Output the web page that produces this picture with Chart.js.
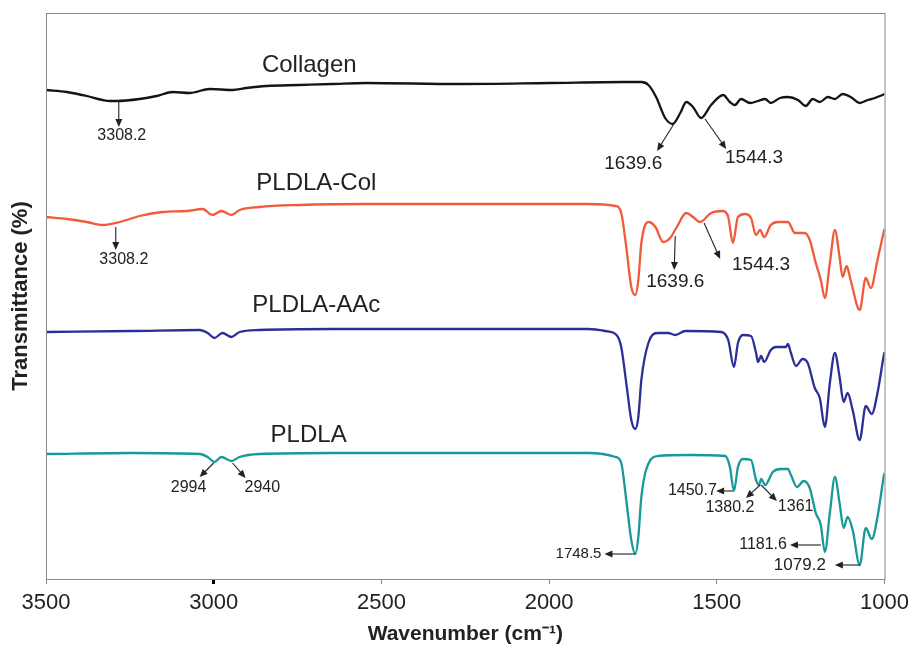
<!DOCTYPE html>
<html>
<head>
<meta charset="utf-8">
<script src="https://cdn.jsdelivr.net/npm/chart.js@4.4.1/dist/chart.umd.min.js"></script>
<style>
  html, body { margin: 0; padding: 0; background: #fff; }
  #wrap { width: 915px; height: 647px; }
</style>
</head>
<body>
<div id="wrap"><canvas id="ftirChart" width="915" height="647"></canvas></div>
<script>
// wavenumber (cm-1) and offset transmittance (arbitrary units) for each spectrum
var collagenWn = [3500, 3438, 3378, 3331, 3308, 3289, 3221, 3170, 3122, 3072, 3012, 2944, 2902, 2843, 2745, 2647, 2546, 2269, 2000, 1780, 1725, 1704, 1681, 1654, 1632, 1609, 1591, 1571, 1547, 1517, 1481, 1461, 1446, 1428, 1401, 1377, 1356, 1339, 1312, 1288, 1258, 1235, 1214, 1193, 1169, 1148, 1125, 1101, 1074, 1050, 1029, 1006, 1000];
var collagenT = [489, 487, 483, 479, 478, 478, 480, 483, 487, 486, 490, 489, 491, 493, 494, 495, 496, 495, 496, 497, 497, 494, 482, 461, 455, 466, 477, 472, 461, 474, 484, 477, 474, 480, 476, 478, 480, 476, 481, 482, 479, 473, 480, 477, 482, 480, 485, 482, 476, 479, 481, 484, 485];

var colWn = [3500, 3438, 3378, 3331, 3280, 3221, 3152, 3081, 3033, 3004, 2977, 2947, 2923, 2864, 2745, 2546, 2269, 1883, 1802, 1785, 1770, 1755, 1743, 1734, 1725, 1704, 1683, 1660, 1639, 1621, 1591, 1571, 1550, 1517, 1481, 1466, 1452, 1437, 1416, 1398, 1383, 1371, 1359, 1339, 1318, 1288, 1267, 1238, 1223, 1205, 1190, 1178, 1163, 1148, 1134, 1125, 1113, 1101, 1074, 1056, 1041, 1021, 1003, 1000];
var colT = [362, 360, 357, 354, 357, 363, 367, 368, 370, 364, 368, 364, 369, 372, 374, 375, 375, 375, 373, 366, 332, 292, 284, 299, 336, 357, 352, 337, 341, 351, 366, 362, 357, 366, 368, 362, 336, 362, 365, 361, 344, 349, 342, 354, 357, 357, 346, 346, 339, 316, 299, 281, 316, 349, 322, 302, 313, 299, 269, 301, 291, 319, 346, 350];

var aacWn = [3500, 3241, 3042, 3018, 2998, 2974, 2947, 2923, 2864, 2647, 2269, 1883, 1832, 1799, 1785, 1770, 1755, 1743, 1734, 1725, 1704, 1675, 1645, 1624, 1594, 1487, 1466, 1449, 1437, 1422, 1398, 1383, 1377, 1368, 1359, 1339, 1324, 1294, 1288, 1279, 1264, 1244, 1229, 1208, 1193, 1178, 1163, 1148, 1134, 1122, 1110, 1095, 1074, 1056, 1038, 1021, 1003, 1000];
var aacT = [247, 248, 249, 246, 241, 246, 242, 247, 249, 250, 250, 250, 248, 244, 232, 196, 159, 150, 162, 199, 236, 246, 246, 244, 248, 247, 239, 212, 236, 244, 243, 226, 217, 223, 217, 229, 232, 232, 235, 226, 213, 220, 216, 191, 181, 152, 196, 226, 202, 177, 186, 169, 139, 173, 165, 186, 222, 227];

var pldlaWn = [3500, 3241, 3042, 3018, 2998, 2977, 2947, 2923, 2864, 2647, 2269, 1883, 1802, 1785, 1770, 1755, 1743, 1734, 1725, 1698, 1675, 1585, 1475, 1461, 1449, 1437, 1422, 1398, 1383, 1374, 1368, 1356, 1333, 1309, 1288, 1279, 1261, 1241, 1223, 1205, 1190, 1178, 1163, 1148, 1134, 1122, 1110, 1095, 1074, 1056, 1038, 1021, 1003, 1000];
var pldlaT = [125, 126, 125, 122, 117, 122, 118, 122, 125, 126, 126, 126, 122, 116, 79, 39, 25, 42, 82, 119, 123, 124, 123, 112, 88, 112, 120, 119, 99, 94, 100, 94, 107, 110, 110, 104, 92, 98, 91, 66, 54, 27, 66, 102, 76, 51, 62, 49, 14, 51, 40, 62, 101, 106];

var xTicks = [3500, 3000, 2500, 2000, 1500, 1000];
var seriesNames = ["Collagen", "PLDLA-Col", "PLDLA-AAc", "PLDLA"];
var seriesColors = ["#141414", "#f15a3a", "#2b2f95", "#17999a"];

// series name labels: [wavenumber, value]
var nameSpots = [[2715, 507], [2694, 389], [2694, 267], [2717, 137]];

// peak arrows: from [wn, T] to [wn, T]
var arrows = [
  [3283, 477, 3283, 452],
  [1630, 454, 1678, 428],
  [1535, 460, 1472, 430],
  [3292, 352, 3292, 329],
  [1624, 343, 1627, 309],
  [1538, 356, 1490, 320],
  [3000, 116, 3042, 102],
  [2944, 116, 2905, 101],
  [1743, 25, 1835, 25],
  [1452, 88, 1502, 88],
  [1371, 94, 1413, 81],
  [1368, 94, 1321, 78],
  [1190, 34, 1282, 34],
  [1074, 14, 1148, 14]
];
// peak labels: text, wn, T, align, font size
var peakText = ["3308.2", "1639.6", "1544.3", "3308.2", "1639.6", "1544.3", "2994", "2940", "1748.5", "1450.7", "1380.2", "1361", "1181.6", "1079.2"];
var peakWn = [3274, 1749, 1389, 3268, 1624, 1368, 3075, 2855, 1844, 1500, 1461, 1318, 1291, 1175];
var peakT = [443, 415, 421, 319, 297, 314, 91, 91, 25, 88, 71, 72, 34, 14];
var peakAlign = ["center", "center", "center", "center", "center", "center", "center", "center", "right", "right", "center", "left", "right", "right"];
var peakSize = [16, 19, 19, 16, 19, 19, 16, 16, 15, 16, 16, 16, 16, 17];

function toPoints(wn, t) {
  return wn.map(function (w, i) { return { x: w, y: t[i] }; });
}

var seriesData = [
  toPoints(collagenWn, collagenT),
  toPoints(colWn, colT),
  toPoints(aacWn, aacT),
  toPoints(pldlaWn, pldlaT)
];

var datasets = seriesNames.map(function (name, i) {
  return {
    label: name,
    data: seriesData[i],
    borderColor: seriesColors[i],
    borderWidth: 2.3,
    pointRadius: 0,
    fill: false,
    cubicInterpolationMode: "monotone"
  };
});

function drawArrow(ctx, x1, y1, x2, y2) {
  var ang = Math.atan2(y2 - y1, x2 - x1);
  var head = 8;
  ctx.beginPath();
  ctx.moveTo(x1, y1);
  ctx.lineTo(x2 - Math.cos(ang) * head * 0.8, y2 - Math.sin(ang) * head * 0.8);
  ctx.stroke();
  ctx.beginPath();
  ctx.moveTo(x2, y2);
  ctx.lineTo(x2 - head * Math.cos(ang) + 3.5 * Math.sin(ang), y2 - head * Math.sin(ang) - 3.5 * Math.cos(ang));
  ctx.lineTo(x2 - head * Math.cos(ang) - 3.5 * Math.sin(ang), y2 - head * Math.sin(ang) + 3.5 * Math.cos(ang));
  ctx.closePath();
  ctx.fill();
}

var annotatePlugin = {
  id: "annotate",
  afterDatasetsDraw: function (chart) {
    var ctx = chart.ctx;
    var xs = chart.scales.x, ys = chart.scales.y;
    var area = chart.chartArea;
    ctx.save();
    // frame round the plot
    ctx.strokeStyle = "#8a8a8a";
    ctx.lineWidth = 1;
    ctx.strokeRect(area.left + 0.5, area.top + 0.5, area.right - area.left, area.bottom - area.top);

    ctx.fillStyle = "#222";
    ctx.textBaseline = "alphabetic";
    ctx.textAlign = "center";
    ctx.font = "24px Arial, 'Liberation Sans', sans-serif";
    nameSpots.forEach(function (p, i) {
      ctx.fillText(seriesNames[i], xs.getPixelForValue(p[0]), ys.getPixelForValue(p[1]));
    });

    ctx.strokeStyle = "#222";
    ctx.lineWidth = 1.1;
    arrows.forEach(function (a) {
      drawArrow(ctx, xs.getPixelForValue(a[0]), ys.getPixelForValue(a[1]),
        xs.getPixelForValue(a[2]), ys.getPixelForValue(a[3]));
    });

    ctx.textBaseline = "middle";
    peakText.forEach(function (txt, i) {
      ctx.font = peakSize[i] + "px Arial, 'Liberation Sans', sans-serif";
      ctx.textAlign = peakAlign[i];
      ctx.fillText(txt, xs.getPixelForValue(peakWn[i]), ys.getPixelForValue(peakT[i]));
    });
    ctx.restore();
  }
};

var config = {
  type: "line",
  data: { datasets: datasets },
  options: {
    responsive: false,
    animation: false,
    layout: { padding: { top: 13, right: 27, left: 0, bottom: 0 } },
    plugins: {
      legend: { display: false },
      tooltip: { enabled: false }
    },
    scales: {
      x: {
        type: "linear",
        reverse: true,
        min: 1000,
        max: 3500,
        afterBuildTicks: function (scale) {
          scale.ticks = xTicks.map(function (v) { return { value: v }; });
        },
        afterFit: function (scale) { scale.height = 68; },
        grid: {
          drawOnChartArea: false,
          drawTicks: true,
          tickLength: 5,
          color: function (c) { return c.tick && c.tick.value === 3000 ? "#000" : "#8a8a8a"; },
          lineWidth: function (c) { return c.tick && c.tick.value === 3000 ? 3 : 1; }
        },
        border: { color: "#8a8a8a" },
        ticks: {
          color: "#222",
          padding: 6,
          maxRotation: 0,
          callback: function (v) { return String(v); },
          font: { family: "Arial, 'Liberation Sans', sans-serif", size: 22 }
        },
        title: {
          display: true,
          text: "Wavenumber (cm\u207B\u00B9)",
          color: "#222",
          padding: { top: 4, bottom: 0 },
          font: { family: "Arial, 'Liberation Sans', sans-serif", size: 21, weight: "bold" }
        }
      },
      y: {
        min: 0,
        max: 566,
        afterFit: function (scale) { scale.width = 46; },
        grid: { display: false, drawTicks: false },
        border: { color: "#8a8a8a" },
        ticks: { display: false },
        title: {
          display: true,
          text: "Transmittance (%)",
          color: "#222",
          padding: { top: 8, bottom: 0 },
          font: { family: "Arial, 'Liberation Sans', sans-serif", size: 22, weight: "bold" }
        }
      }
    }
  },
  plugins: [annotatePlugin]
};

var myChart = new Chart(document.getElementById("ftirChart"), config);
</script>
</body>
</html>
